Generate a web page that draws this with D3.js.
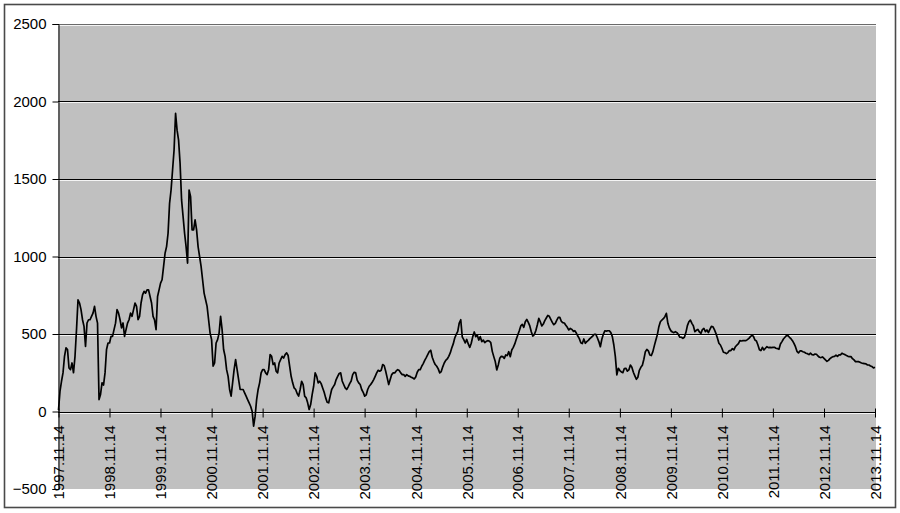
<!DOCTYPE html>
<html>
<head>
<meta charset="utf-8">
<script src="https://cdn.jsdelivr.net/npm/d3@7"></script>
<style>
  html, body { margin: 0; padding: 0; background: #fff; }
  svg { display: block; }
  text { font-family: "Liberation Sans", Arial, sans-serif; }
</style>
</head>
<body>
<svg id="chart" width="900" height="513"></svg>
<script>
// ---- data ----
const startLabel = "1997.11.14";
const endLabel = "2013.11.14";
const xTickLabels = ["1997.11.14","1998.11.14","1999.11.14","2000.11.14","2001.11.14","2002.11.14",
  "2003.11.14","2004.11.14","2005.11.14","2006.11.14","2007.11.14","2008.11.14","2009.11.14",
  "2010.11.14","2011.11.14","2012.11.14","2013.11.14"];
const yTicks = [-500, 0, 500, 1000, 1500, 2000, 2500];
// readings on an even time grid (every 2nd sample)
const valuesEven = [
  10,195,356,400,270,250,528,700,592,420,592,614,678,570,110,170,400,442,485,570,
  635,540,485,570,635,657,678,614,753,764,785,700,590,742,828,935,1064,1343,1558,1923,
  1751,1365,1150,957,1386,1172,1172,1000,850,721,592,464,313,464,614,400,270,142,185,335,
  206,142,120,77,34,-94,77,185,270,249,270,356,313,249,335,345,378,292,185,142,
  99,195,99,56,45,163,227,195,152,88,56,142,174,227,249,174,142,180,238,249,
  185,142,99,142,174,206,249,260,303,260,174,238,249,270,249,238,238,227,217,223,
  270,292,330,367,395,324,292,249,288,330,356,410,474,517,592,464,465,414,483,483,
  461,451,444,457,444,354,268,343,354,365,386,397,436,494,552,543,594,552,487,521,
  601,552,586,620,594,560,590,607,573,556,526,530,521,487,444,468,451,470,487,498,
  451,466,521,521,509,429,236,264,251,279,268,285,230,221,285,337,401,365,386,461,
  547,590,612,569,521,509,509,479,472,509,579,569,515,530,504,536,526,530,547,504,
  440,408,380,380,393,397,429,457,457,457,472,491,461,429,393,397,418,414,414,408,
  401,451,479,489,470,440,388,391,386,376,367,367,371,358,348,343,324,341,354,363,
  365,376,367,356,354,333,322,318,311,307,300,290,285
];
// readings in between (the other half of the samples)
const valuesOdd = [
  131,249,410,281,313,356,721,657,549,571,592,635,614,77,185,249,442,485,528,657,
  592,571,528,592,614,700,592,700,775,785,742,614,528,785,850,1021,1150,1429,1687,1815,
  1601,1258,1064,1429,1172,1236,1064,936,764,678,506,292,442,506,528,356,227,99,270,270,
  142,142,99,56,2,-30,142,249,
  270,238,367,303,260,313,356,367,361,227,152,116,142,174,88,13,109,249,185,180,
  124,60,99,159,206,245,197,152,159,197,253,202,174,124,107,163,189,227,266,266,
  296,217,206,249,262,264,238,227,230,221,210,253,270,309,348,386,350,303,275,258,
  313,339,378,436,498,571,481,442,
  436,440,513,494,483,461,453,455,388,322,300,356,343,361,354,414,466,521,562,579,
  575,515,496,558,579,564,603,614,575,569,607,582,571,543,536,517,506,470,438,440,
  459,479,498,476,418,498,519,521,483,354,279,255,277,260,300,253,208,266,298,386,
  391,361,425,496,579,599,633,539,
  513,515,496,479,479,554,590,552,524,513,528,515,509,549,528,474,429,382,373,393,
  406,418,438,455,457,464,483,485,455,399,414,408,412,412,414,406,436,468,489,479,
  457,418,378,391,382,373,376,365,369,350,352,333,330,348,356,356,365,371,361,354,
  341,322,322,313,309,300,294,281
];
const values = valuesEven.flatMap((v, i) => i < valuesOdd.length ? [v, valuesOdd[i]] : [v]);

// ---- chart ----
const W = 900, H = 513;
const plot = { left: 58, right: 876, top: 24, bottom: 489 };
const parse = d3.timeParse("%Y.%m.%d");
const t0 = parse(startLabel), t1 = parse(endLabel);
const tickDates = xTickLabels.map(parse);
const dates = values.map((v, i) => new Date(+t0 + i * (t1 - t0) / (values.length - 1)));

const svg = d3.select("#chart");

// outer frame
svg.append("rect").attr("x", 0).attr("y", 0).attr("width", W).attr("height", H).attr("fill", "#fff");
svg.append("rect").attr("x", 4.5).attr("y", 4.5).attr("width", 891).attr("height", 503)
  .attr("fill", "none").attr("stroke", "#4a4a4a").attr("stroke-width", 1.6);

const x = d3.scaleTime().domain([t0, t1]).range([58.5, 875]);
const y = d3.scaleLinear().domain([-500, 2500]).range([plot.bottom, plot.top]);

// plot background
svg.append("rect").attr("x", plot.left).attr("y", plot.top)
  .attr("width", plot.right - plot.left).attr("height", plot.bottom - plot.top)
  .attr("fill", "#c0c0c0");

// gridlines (black line with white shadow below)
const grid = svg.append("g");
yTicks.filter(v => v > -500).forEach(v => {
  const yy = Math.round(y(v));
  grid.append("line").attr("x1", plot.left).attr("x2", plot.right)
    .attr("y1", yy + 1.5).attr("y2", yy + 1.5).attr("stroke", "#f4f4f4").attr("stroke-width", 1);
  grid.append("line").attr("x1", plot.left).attr("x2", plot.right)
    .attr("y1", yy + 0.5).attr("y2", yy + 0.5)
    .attr("stroke", v === 2500 ? "#6a6a6a" : "#000").attr("stroke-width", 1);
});

// the series line
const line = d3.line().x((d, i) => x(dates[i])).y(d => y(d));
svg.append("path").datum(values)
  .attr("d", line).attr("fill", "none").attr("stroke", "#000")
  .attr("stroke-width", 1.7).attr("stroke-linejoin", "round");

// y axis
const yAxis = d3.axisLeft(y).tickValues(yTicks).tickSize(6).tickPadding(6).tickFormat(d3.format("d"));
const gy = svg.append("g").attr("transform", `translate(${plot.left + 0.5},0)`).call(yAxis);
gy.select(".domain").attr("stroke", "#000");
gy.selectAll(".tick line").attr("stroke", "#000");
gy.selectAll(".tick text").attr("font-size", "15px").attr("fill", "#000")
  .attr("font-family", "'Liberation Sans', Arial, sans-serif");

// x axis (at value 0) with crossing ticks
const xAxis = d3.axisBottom(x).tickValues(tickDates).tickSizeInner(0).tickSizeOuter(0)
  .tickFormat((d, i) => xTickLabels[i]);
const zeroY = Math.round(y(0)) + 0.5;
const gx = svg.append("g").attr("transform", `translate(0,${zeroY})`).call(xAxis);
gx.select(".domain").remove();
gx.selectAll(".tick line").remove();
gx.selectAll(".tick").append("line").attr("y1", -4).attr("y2", 5).attr("stroke", "#000");
gx.selectAll(".tick text")
  .attr("font-size", "15px").attr("fill", "#000")
  .attr("font-family", "'Liberation Sans', Arial, sans-serif")
  .attr("text-anchor", "end")
  .attr("transform", "translate(0,13) rotate(-90)")
  .attr("x", 0).attr("y", 0).attr("dy", "0.35em");
</script>
</body>
</html>
